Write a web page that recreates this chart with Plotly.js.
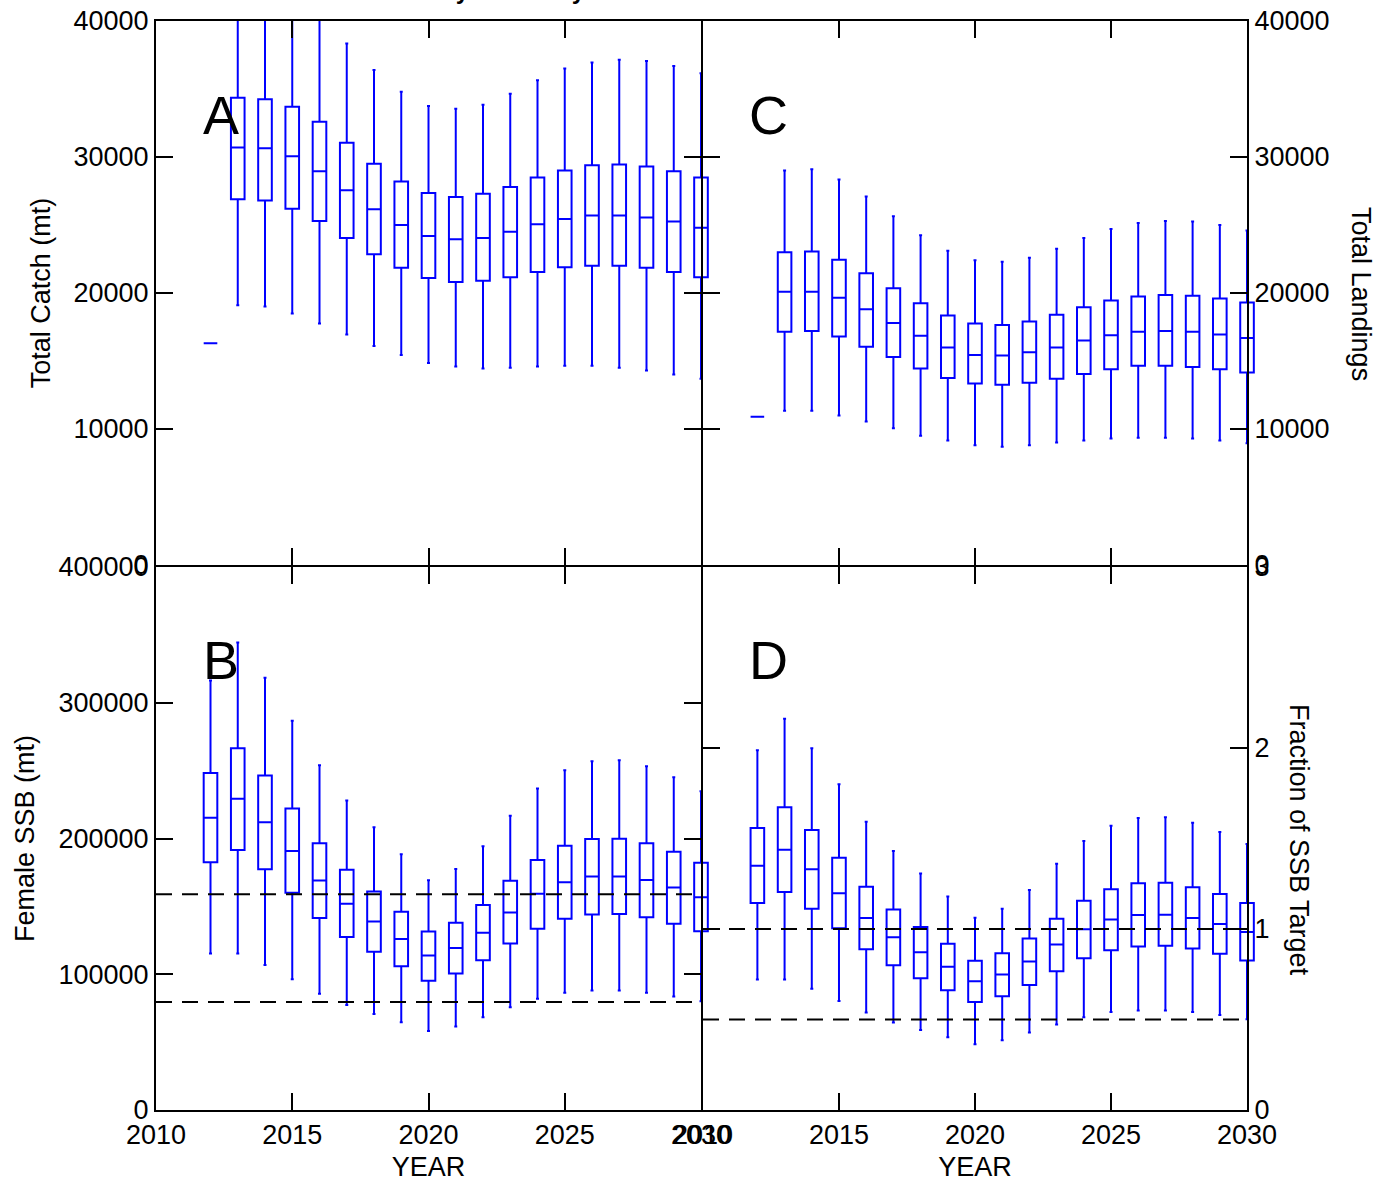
<!DOCTYPE html>
<html>
<head>
<meta charset="utf-8">
<script src="https://cdn.plot.ly/plotly-3.0.1.min.js"></script>
<style>
html,body{margin:0;padding:0;background:#ffffff;}
#chart{width:1382px;height:1186px;}
</style>
</head>
<body>
<div id="chart"></div>
<script>
// ---------------- DATA ----------------
const years = [2012,2013,2014,2015,2016,2017,2018,2019,2020,2021,2022,2023,2024,2025,2026,2027,2028,2029,2030];

// Panel A: Total Catch (mt)
const catchLow  = [16300,19100,19000,18500,17750,16950,16100,15450,14850,14600,14450,14500,14600,14650,14650,14500,14300,14000,13700];
const catchQ1   = [16300,26900,26800,26200,25300,24050,22850,21850,21100,20800,20900,21150,21550,21900,22000,22000,21850,21550,21150];
const catchMed  = [16300,30700,30650,30050,28950,27550,26150,25000,24200,23950,24050,24500,25050,25450,25700,25700,25550,25250,24800];
const catchQ3   = [16300,34350,34250,33700,32600,31050,29500,28200,27350,27050,27300,27800,28500,29000,29400,29450,29300,28950,28500];
const catchHigh = [16300,43500,43300,42600,41000,38350,36400,34800,33750,33550,33850,34650,35650,36500,36950,37150,37050,36700,36150];

// Panel C: Total Landings
const landLow  = [10900,11350,11350,11000,10550,10050,9500,9150,8800,8700,8800,9000,9150,9300,9350,9350,9300,9150,8950];
const landQ1   = [10900,17150,17200,16800,16050,15300,14450,13750,13350,13250,13400,13700,14050,14400,14650,14650,14550,14400,14150];
const landMed  = [10900,20100,20100,19650,18800,17800,16850,16000,15450,15400,15650,16000,16500,16900,17150,17200,17150,16950,16700];
const landQ3   = [10900,23000,23050,22450,21450,20350,19250,18350,17750,17650,17900,18400,18950,19450,19750,19850,19800,19600,19300];
const landHigh = [10900,29000,29100,28350,27100,25650,24250,23100,22400,22300,22600,23250,24050,24700,25150,25300,25250,25000,24600];

// Panel B: Female SSB (mt)
const ssbLow  = [115200,115200,106900,96400,85600,77300,70700,64600,58200,61600,68300,75600,82000,86400,88100,88100,86400,83700,80200];
const ssbQ1   = [182500,191500,177400,160000,141400,127500,116500,105900,95200,100500,110300,122600,133600,140900,144100,144300,141900,137200,131600];
const ssbMed  = [215300,229200,211900,190800,169000,151900,138900,126000,113800,119400,130600,145500,159300,167800,172000,172000,169500,163900,156800];
const ssbQ3   = [248300,266400,246400,222100,196500,176900,161000,146000,131400,138000,151000,168800,184200,194700,199600,199900,196500,190300,182200];
const ssbHigh = [316300,344400,318500,286700,253900,228000,208200,188400,169300,177600,194300,216800,236800,250300,256900,257600,253200,245100,234800];
const ssbRefLevels = [159000, 79500];

// Panel D: Fraction of SSB Target
const fracLow  = [0.721,0.721,0.670,0.602,0.538,0.484,0.442,0.402,0.363,0.385,0.428,0.473,0.512,0.541,0.550,0.550,0.541,0.525,0.501];
const fracQ1   = [1.143,1.204,1.112,1.004,0.888,0.800,0.728,0.661,0.596,0.629,0.690,0.767,0.838,0.882,0.904,0.907,0.892,0.863,0.826];
const fracMed  = [1.350,1.438,1.330,1.198,1.061,0.954,0.871,0.791,0.712,0.749,0.820,0.914,0.998,1.053,1.077,1.079,1.061,1.028,0.984];
const fracQ3   = [1.558,1.673,1.547,1.393,1.233,1.108,1.011,0.918,0.824,0.866,0.947,1.057,1.156,1.220,1.253,1.255,1.231,1.194,1.143];
const fracHigh = [1.987,2.162,1.998,1.800,1.593,1.431,1.306,1.180,1.062,1.112,1.216,1.361,1.486,1.571,1.613,1.617,1.587,1.536,1.470];
const fracRefLevels = [1, 0.5];

// Axis extents and ticks
const yearSpan   = [2010, 2030];
const yearTicks  = [2010, 2015, 2020, 2025, 2030];
const catchTicks = [0, 10000, 20000, 30000, 40000];
const ssbTicks   = [0, 100000, 200000, 300000, 400000];
const fracTicks  = [0, 1, 2, 3];

// ---------------- LAYOUT HELPERS ----------------
const ML = 135, MR = 114, MT = 20, MB = 75;
const PW = 1382 - ML - MR, PH = 1186 - MT - MB;
const fx = X => (X - ML) / PW;
const fy = Y => (1111 - Y) / PH;
const L = 156, R = 1247, TOP = 21, BOT = 1110;
const MIDL = 701, MIDR = 703, HMT = 565, HMB = 567;
const pxPerYear = (MIDL - L) / (yearSpan[1] - yearSpan[0]);
const ext = 0.5; // extra room (years) so that the end boxes are not cut at the frame
const FONT = 'Liberation Sans, Arial, Helvetica, sans-serif';
const BLUE = '#0000ff';

function boxTrace(xa, ya, low, q1, med, q3, high) {
  return {
    type: 'box', x: years, lowerfence: low, q1: q1, median: med, q3: q3, upperfence: high,
    xaxis: xa, yaxis: ya, width: 0.5, whiskerwidth: 0.22, boxpoints: false,
    line: {color: BLUE, width: 2}, fillcolor: 'rgba(0,0,0,0)', hoverinfo: 'skip', showlegend: false
  };
}
function refTrace(xa, ya, level) {
  return {
    type: 'scatter', mode: 'lines', x: yearSpan, y: [level, level], xaxis: xa, yaxis: ya,
    line: {color: '#000', width: 2, dash: '16px,10px'}, hoverinfo: 'skip', showlegend: false
  };
}
function emptyTrace(xa, ya) {
  return {type: 'scatter', mode: 'lines', x: [], y: [], xaxis: xa, yaxis: ya, hoverinfo: 'skip', showlegend: false};
}

// box traces live on hidden, slightly wider x axes (x..x4); the framed axes are x5..x8
const data = [
  boxTrace('x',  'y',  catchLow, catchQ1, catchMed, catchQ3, catchHigh),
  boxTrace('x2', 'y2', landLow, landQ1, landMed, landQ3, landHigh),
  boxTrace('x3', 'y3', ssbLow, ssbQ1, ssbMed, ssbQ3, ssbHigh),
  boxTrace('x4', 'y4', fracLow, fracQ1, fracMed, fracQ3, fracHigh),
  emptyTrace('x5', 'y'),
  emptyTrace('x6', 'y2'),
  refTrace('x7', 'y3', ssbRefLevels[0]),
  refTrace('x7', 'y3', ssbRefLevels[1]),
  refTrace('x8', 'y4', fracRefLevels[0]),
  refTrace('x8', 'y4', fracRefLevels[1])
];

const tickFont = {family: FONT, size: 27, color: '#000'};
const titleFont = {family: FONT, size: 27, color: '#000'};
const common = {
  showline: true, linecolor: '#000', linewidth: 2, mirror: 'ticks',
  ticks: 'inside', ticklen: 17, tickwidth: 2, tickcolor: '#000',
  showgrid: false, zeroline: false, tickfont: tickFont, tickformat: 'd', fixedrange: true
};
const domA = [fx(L), fx(MIDL)], domC = [fx(MIDR), fx(R)];
const domTop = [fy(HMT), fy(TOP)], domBot = [fy(BOT), fy(HMB)];
const extPx = ext * pxPerYear;
const extRange = [yearSpan[0] - ext, yearSpan[1] + ext];
const hidden = {visible: false, range: extRange, fixedrange: true, showgrid: false, zeroline: false};

const layout = {
  width: 1382, height: 1186,
  margin: {l: ML, r: MR, t: MT, b: MB, pad: 0},
  paper_bgcolor: '#ffffff', plot_bgcolor: 'rgba(0,0,0,0)',
  showlegend: false,
  font: {family: FONT, color: '#000'},
  xaxis:  Object.assign({}, hidden, {domain: [fx(L - extPx), fx(MIDL + extPx)], anchor: 'y'}),
  xaxis2: Object.assign({}, hidden, {domain: [fx(MIDR - extPx), fx(R + extPx)], anchor: 'y2'}),
  xaxis3: Object.assign({}, hidden, {domain: [fx(L - extPx), fx(MIDL + extPx)], anchor: 'y3'}),
  xaxis4: Object.assign({}, hidden, {domain: [fx(MIDR - extPx), fx(R + extPx)], anchor: 'y4'}),
  xaxis5: Object.assign({}, common, {domain: domA, range: yearSpan, anchor: 'y',  tickvals: yearTicks, showticklabels: false}),
  xaxis6: Object.assign({}, common, {domain: domC, range: yearSpan, anchor: 'y2', tickvals: yearTicks, showticklabels: false}),
  xaxis7: Object.assign({}, common, {domain: domA, range: yearSpan, anchor: 'y3', tickvals: yearTicks, ticklabelstandoff: 0,
          title: {text: 'YEAR', font: titleFont, standoff: 8}}),
  xaxis8: Object.assign({}, common, {domain: domC, range: yearSpan, anchor: 'y4', tickvals: yearTicks, ticklabelstandoff: 0,
          title: {text: 'YEAR', font: titleFont, standoff: 8}}),
  yaxis:  Object.assign({}, common, {domain: domTop, range: [0, 40000], anchor: 'x5', tickvals: catchTicks, ticklabelstandoff: 0,
          title: {text: 'Total Catch (mt)', font: titleFont, standoff: 15}}),
  yaxis2: Object.assign({}, common, {domain: domTop, range: [0, 40000], anchor: 'x6', side: 'right', tickvals: catchTicks, ticklabelstandoff: 0}),
  yaxis3: Object.assign({}, common, {domain: domBot, range: [0, 400000], anchor: 'x7', tickvals: ssbTicks, ticklabelstandoff: 0,
          title: {text: 'Female SSB (mt)', font: titleFont, standoff: 16}}),
  yaxis4: Object.assign({}, common, {domain: domBot, range: [0, 3], anchor: 'x8', side: 'right', tickvals: fracTicks, ticklabelstandoff: 0}),
  annotations: [
    {text: '<b>Stock Recovery Summary</b>', xref: 'paper', yref: 'paper', x: fx(437), y: fy(6), xanchor: 'center', yanchor: 'bottom',
     showarrow: false, font: {family: FONT, size: 24, color: '#000'}},
    {text: 'A', xref: 'paper', yref: 'paper', x: fx(221), y: fy(115), xanchor: 'center', yanchor: 'middle', showarrow: false, font: {family: FONT, size: 54, color: '#000'}},
    {text: 'C', xref: 'paper', yref: 'paper', x: fx(768), y: fy(115), xanchor: 'center', yanchor: 'middle', showarrow: false, font: {family: FONT, size: 54, color: '#000'}},
    {text: 'B', xref: 'paper', yref: 'paper', x: fx(221), y: fy(660), xanchor: 'center', yanchor: 'middle', showarrow: false, font: {family: FONT, size: 54, color: '#000'}},
    {text: 'D', xref: 'paper', yref: 'paper', x: fx(768), y: fy(660), xanchor: 'center', yanchor: 'middle', showarrow: false, font: {family: FONT, size: 54, color: '#000'}},
    {text: 'Total Landings', xref: 'paper', yref: 'paper', x: fx(1361), y: fy(294), xanchor: 'center', yanchor: 'middle', textangle: 90,
     showarrow: false, font: {family: FONT, size: 27, color: '#000'}},
    {text: 'Fraction of SSB Target', xref: 'paper', yref: 'paper', x: fx(1299), y: fy(840), xanchor: 'center', yanchor: 'middle', textangle: 90,
     showarrow: false, font: {family: FONT, size: 27, color: '#000'}}
  ]
};

Plotly.newPlot('chart', data, layout, {staticPlot: true, displayModeBar: false});
</script>
</body>
</html>
